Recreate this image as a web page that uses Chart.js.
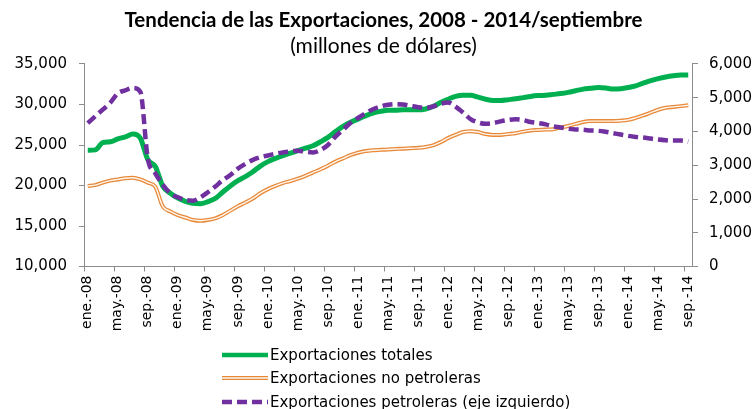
<!DOCTYPE html>
<html>
<head>
<meta charset="utf-8">
<script src="https://cdn.jsdelivr.net/npm/chart.js@4.4.1/dist/chart.umd.min.js"></script>
<style>
  body { margin: 0; background: #fff; }
  #wrap { position: relative; width: 753px; height: 409px; }
  #legend { position: absolute; left: 222px; top: 343px; font: 15px "DejaVu Sans", sans-serif; color: #000; }
  #legend .row { height: 23.5px; display: flex; align-items: center; white-space: nowrap; }
  #legend svg { margin-right: 2px; flex: none; }
</style>
</head>
<body>
<div id="wrap">
  <canvas id="chart" width="753" height="409"></canvas>
  <div id="legend">
    <div class="row">
      <svg width="46" height="10"><line x1="0" y1="5" x2="46" y2="5" stroke="#00B050" stroke-width="4.5"/></svg>
      <span>Exportaciones totales</span>
    </div>
    <div class="row">
      <svg width="46" height="10"><line x1="0" y1="5" x2="46" y2="5" stroke="#E8893A" stroke-width="4"/><line x1="0" y1="5" x2="46" y2="5" stroke="#FFF7EE" stroke-width="1.4"/></svg>
      <span>Exportaciones no petroleras</span>
    </div>
    <div class="row">
      <svg width="46" height="10"><line x1="0" y1="5" x2="46" y2="5" stroke="#7030A0" stroke-width="4.5" stroke-dasharray="10 5"/></svg>
      <span>Exportaciones petroleras (eje izquierdo)</span>
    </div>
  </div>
</div>
<script>
const monthNames = ['ene.', 'feb.', 'mar.', 'abr.', 'may.', 'jun.', 'jul.', 'ago.', 'sep.', 'oct.', 'nov.', 'dic.'];
const years = ['08', '09', '10', '11', '12', '13', '14'];
const lastMonthIndex = 8; // sep-14

// millones de dolares, ene-08 .. sep-14
const totales = [
  24350, 24400, 25300, 25400, 25750, 26000, 26350, 25850, 23200, 22350, 19900, 19050,
  18450, 18050, 17800, 17750, 18000, 18400, 19200, 19950, 20600, 21100, 21700, 22400,
  22950, 23350, 23700, 24000, 24300, 24600, 24900, 25400, 25950, 26650, 27300, 27800,
  28200, 28600, 28950, 29150, 29300, 29300, 29350, 29350, 29350, 29450, 29750, 30250,
  30650, 31000, 31150, 31150, 30900, 30650, 30500, 30500, 30600, 30700, 30850, 31000,
  31100, 31150, 31250, 31350, 31500, 31700, 31900, 32000, 32100, 32050, 31900, 31950,
  32100, 32300, 32650, 32950, 33200, 33400, 33550, 33650, 33650
];
const noPetroleras = [
  19950, 20050, 20350, 20600, 20750, 20900, 20950, 20750, 20350, 19850, 17400, 16800,
  16350, 16050, 15750, 15650, 15750, 15950, 16350, 16900, 17450, 17900, 18400, 19050,
  19550, 19950, 20300, 20550, 20850, 21200, 21600, 22000, 22450, 22950, 23350, 23750,
  24050, 24250, 24350, 24400, 24450, 24500, 24550, 24600, 24650, 24750, 24950, 25350,
  25850, 26250, 26600, 26700, 26600, 26350, 26250, 26250, 26350, 26450, 26650, 26800,
  26850, 26900, 26950, 27150, 27350, 27600, 27850, 27950, 27950, 27950, 27950, 28000,
  28100, 28350, 28650, 29000, 29350, 29600, 29700, 29800, 29900
];
const petroleras = [
  4250, 4450, 4650, 4850, 5130, 5220, 5290, 5180, 3200, 2760, 2420, 2170,
  2050, 1970, 1950, 2050, 2200, 2370, 2560, 2710, 2900, 3040, 3160, 3240,
  3290, 3340, 3380, 3410, 3430, 3400, 3380, 3450, 3600, 3850, 4050, 4250,
  4400, 4540, 4660, 4740, 4790, 4810, 4800, 4760, 4720, 4700, 4740, 4820,
  4860, 4740, 4560, 4370, 4270, 4230, 4250, 4300, 4340, 4360, 4340, 4280,
  4250, 4210, 4150, 4120, 4080, 4060, 4050, 4030, 4020, 3990, 3950, 3910,
  3870, 3840, 3820, 3790, 3760, 3740, 3730, 3730, 3700
];

const labels = [];
years.forEach((yy, yi) => {
  monthNames.forEach((m, mi) => {
    if (yi < years.length - 1 || mi <= lastMonthIndex) labels.push(m + '-' + yy);
  });
});

const axisGrey = '#8C8C8C';
const fmt = v => v.toLocaleString('en-US');

new Chart(document.getElementById('chart'), {
  type: 'line',
  data: {
    labels: labels,
    datasets: [
      { label: 'Exportaciones petroleras (eje izquierdo)', data: petroleras, yAxisID: 'y1',
        borderColor: '#7030A0', borderWidth: 4.5, borderDash: [10, 5], order: 0 },
      { label: 'no petroleras (centro)', data: noPetroleras, yAxisID: 'y',
        borderColor: '#FFF7EE', borderWidth: 1.4, order: 1 },
      { label: 'Exportaciones no petroleras', data: noPetroleras, yAxisID: 'y',
        borderColor: '#E8893A', borderWidth: 4, order: 2 },
      { label: 'Exportaciones totales', data: totales, yAxisID: 'y',
        borderColor: '#00B050', borderWidth: 5, order: 3 }
    ]
  },
  options: {
    responsive: false,
    animation: false,
    elements: {
      point: { radius: 0 },
      line: { cubicInterpolationMode: 'monotone', fill: false }
    },
    layout: { padding: { left: 14, right: 0, top: 0, bottom: 72.5 } },
    plugins: {
      legend: { display: false },
      tooltip: { enabled: false },
      title: {
        display: true,
        text: 'Tendencia de las Exportaciones, 2008 - 2014/septiembre',
        color: '#000',
        font: { family: 'Lato', size: 20.5, weight: 'bold' },
        padding: { top: 8, bottom: 0 }
      },
      subtitle: {
        display: true,
        text: '(millones de dólares)',
        color: '#000',
        font: { family: 'Lato', size: 21 },
        padding: { top: 1, bottom: 5.2 }
      }
    },
    scales: {
      x: {
        offset: true,
        grid: {
          offset: true,
          drawOnChartArea: false,
          tickLength: 5,
          tickColor: c => c.index % 4 === 0 ? axisGrey : 'rgba(0,0,0,0)'
        },
        border: { color: axisGrey },
        ticks: {
          autoSkip: false,
          minRotation: 90,
          maxRotation: 90,
          padding: 4,
          color: '#000',
          font: { family: 'DejaVu Sans', size: 14 },
          callback: function (v, i) { return i % 4 === 0 ? this.getLabelForValue(v) : ''; }
        },
        afterFit: s => { s.height = 70; }
      },
      y: {
        position: 'left',
        min: 10000,
        max: 35000,
        grid: { drawOnChartArea: false, tickLength: 5, color: axisGrey },
        border: { color: axisGrey },
        ticks: {
          stepSize: 5000, padding: 12, color: '#000',
          font: { family: 'DejaVu Sans', size: 15 },
          callback: fmt
        },
        afterFit: s => { s.width = 70; }
      },
      y1: {
        position: 'right',
        min: 0,
        max: 6000,
        grid: { drawOnChartArea: false, tickLength: 6, color: axisGrey },
        border: { color: axisGrey },
        ticks: {
          stepSize: 1000, padding: 11, color: '#000',
          font: { family: 'DejaVu Sans', size: 15 },
          callback: fmt
        },
        afterFit: s => { s.width = 61; }
      }
    }
  }
});
</script>
</body>
</html>
